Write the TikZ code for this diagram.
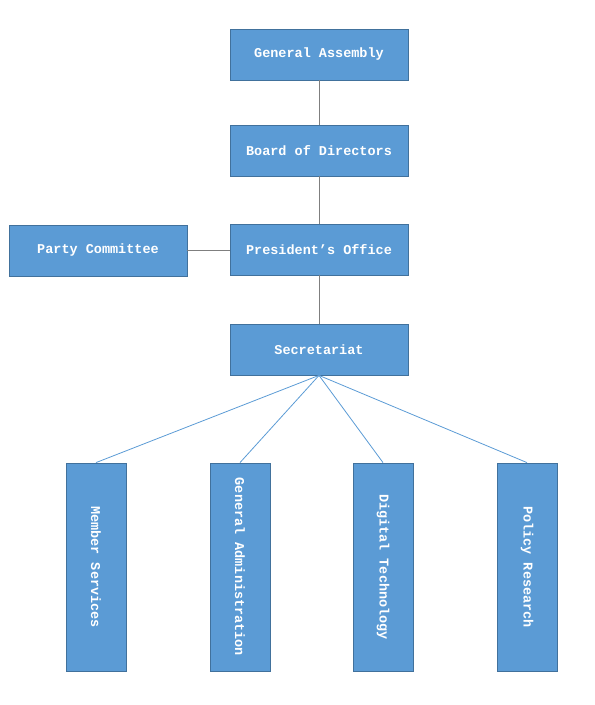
\documentclass[tikz,border=0pt]{standalone}
\usepackage{fontspec}
\setmonofont{Liberation Mono}
\definecolor{boxfill}{HTML}{5B9BD5}
\definecolor{boxline}{HTML}{41719C}
\definecolor{grayline}{HTML}{7F7F7F}
\begin{document}
\begin{tikzpicture}[x=1pt,y=-1pt,
  box/.style={draw=boxline, line width=0.8pt, fill=boxfill, text=white,
    minimum width=178pt, minimum height=51pt, inner sep=0pt,
    font=\ttfamily\bfseries\fontsize{13.5}{14}\selectfont},
  vbox/.style={draw=boxline, line width=0.8pt, fill=boxfill,
    minimum width=60pt, minimum height=208pt, inner sep=0pt},
  vtext/.style={text=white, rotate=-90, inner sep=0pt,
    font=\ttfamily\bfseries\fontsize{13.5}{14}\selectfont},
  vline/.style={draw=grayline, line width=0.7pt},
  bline/.style={draw=boxfill, line width=0.8pt}]
\useasboundingbox (0,0) rectangle (595,705);
\node[box] (ga) at (319,54.5) {General Assembly};
\node[box] (bd) at (319,150.5) {Board of Directors};
\node[box] (po) at (319,249.5) {President’s Office};
\node[box] (pc) at (98,250.5) {Party Committee};
\node[box] (se) at (319,349.5) {Secretariat};
\node[vbox] (ms) at (96,567) {};
\node[vbox] (gad) at (240,567) {};
\node[vbox] (dt) at (383,567) {};
\node[vbox] (pr) at (527,567) {};
\node[vtext] at (ms.center) {Member Services};
\node[vtext] at (gad.center) {General Administration};
\node[vtext] at (dt.center) {Digital Technology};
\node[vtext] at (pr.center) {Policy Research};
\draw[vline] (ga.south) -- (bd.north);
\draw[vline] (bd.south) -- (po.north);
\draw[vline] (po.south) -- (se.north);
\draw[vline] (pc.east) -- (pc.east -| po.west);
\draw[bline] (se.south) -- (ms.north);
\draw[bline] (se.south) -- (gad.north);
\draw[bline] (se.south) -- (dt.north);
\draw[bline] (se.south) -- (pr.north);
\end{tikzpicture}
\end{document}
